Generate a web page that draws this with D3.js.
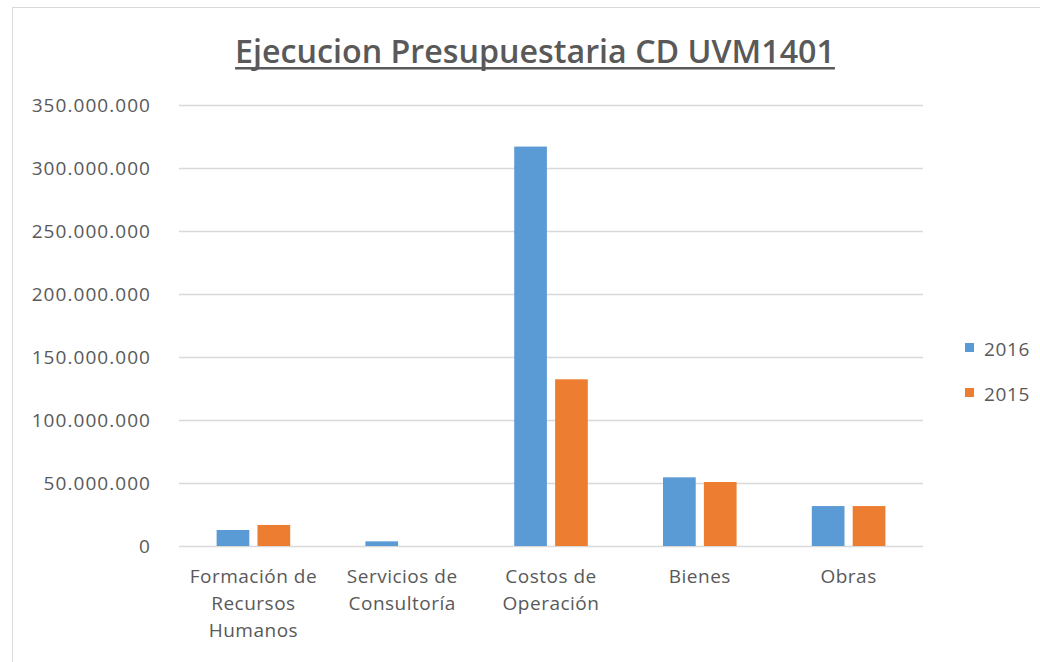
<!DOCTYPE html>
<html>
<head>
<meta charset="utf-8">
<script src="https://cdn.jsdelivr.net/npm/d3@7"></script>
<style>
  body { margin: 0; background: #fff; }
  text { font-family: "Open Sans", sans-serif; fill: #595959; }
</style>
</head>
<body>
<svg id="chart" width="1040" height="662"></svg>
<script>
const categories = [
  "Formación de Recursos Humanos",
  "Servicios de Consultoría",
  "Costos de Operación",
  "Bienes",
  "Obras"
];
const seriesNames = ["2016", "2015"];
const values2016 = [12700000, 3700000, 317000000, 54500000, 31700000];
const values2015 = [16700000, 0, 132300000, 50800000, 31700000];
const yTicks = [0, 50000000, 100000000, 150000000, 200000000, 250000000, 300000000, 350000000];
const colors = ["#5b9bd5", "#ed7d31"];
const title = "Ejecucion Presupuestaria CD UVM1401";

const svg = d3.select("#chart");

// frame of the chart area
svg.append("rect")
  .attr("x", 12.5).attr("y", 7.5)
  .attr("width", 1100).attr("height", 700)
  .attr("fill", "none").attr("stroke", "#d9d9d9");

const plotLeft = 179, plotRight = 923, plotTop = 105, plotBottom = 546;

const x0 = d3.scaleBand().domain(categories).range([plotLeft, plotRight]);
const x1 = d3.scaleBand().domain(seriesNames)
  .range([0, x0.bandwidth()])
  .paddingInner(0.2).paddingOuter(0.92);
const y = d3.scaleLinear().domain([0, 350000000]).range([plotBottom, plotTop]);

const locale = d3.formatLocale({ decimal: ",", thousands: ".", grouping: [3], currency: ["$", ""] });
const fmt = locale.format(",");

// gridlines + y labels
const yAxis = d3.axisLeft(y).tickValues(yTicks).tickFormat(fmt)
  .tickSize(-(plotRight - plotLeft)).tickPadding(28);
const gy = svg.append("g").attr("transform", `translate(${plotLeft},0)`).call(yAxis);
gy.select(".domain").remove();
gy.selectAll(".tick line").attr("stroke", "#d9d9d9").attr("stroke-width", 1.3);
gy.selectAll(".tick text")
  .style("font-size", "19px").style("letter-spacing", "1.05px")
  .attr("fill", "#595959")
  .style("font-family", "'Open Sans', sans-serif");

// bars
const rows = categories.map((c, i) => ({
  cat: c,
  vals: [
    { key: "2016", value: values2016[i] },
    { key: "2015", value: values2015[i] }
  ]
}));

const groups = svg.selectAll("g.grp")
  .data(rows).enter().append("g").attr("class", "grp")
  .attr("transform", (d) => `translate(${x0(d.cat)},0)`);

groups.selectAll("rect")
  .data((d) => d.vals.filter((v) => v.value > 0))
  .enter().append("rect")
  .attr("x", (d) => x1(d.key))
  .attr("width", x1.bandwidth())
  .attr("y", (d) => y(d.value))
  .attr("height", (d) => y(0) - y(d.value))
  .attr("fill", (d) => colors[seriesNames.indexOf(d.key)]);

// x labels, wrapped
const wrapWidth = 142;
categories.forEach((c) => {
  const cx = x0(c) + x0.bandwidth() / 2;
  const t = svg.append("text")
    .attr("x", cx)
    .attr("y", plotBottom + 37)
    .attr("text-anchor", "middle")
    .style("font-size", "19px").style("letter-spacing", "0.5px");
  const words = c.split(" ");
  let line = [];
  let tspan = t.append("tspan").attr("x", cx).attr("dy", 0);
  words.forEach((w) => {
    line.push(w);
    tspan.text(line.join(" "));
    if (tspan.node().getComputedTextLength() > wrapWidth && line.length > 1) {
      line.pop();
      tspan.text(line.join(" "));
      line = [w];
      tspan = t.append("tspan").attr("x", cx).attr("dy", 27).text(w);
    }
  });
});

// legend
const legend = svg.selectAll("g.leg").data(seriesNames).enter().append("g")
  .attr("class", "leg")
  .attr("transform", (d, i) => `translate(965,${343 + i * 45})`);
legend.append("rect").attr("width", 9).attr("height", 9)
  .attr("fill", (d, i) => colors[i]);
legend.append("text").attr("x", 19).attr("y", 13)
  .style("font-size", "19px").style("letter-spacing", "0.6px").text((d) => d);

// title
const tt = svg.append("text")
  .attr("x", 535).attr("y", 63)
  .attr("text-anchor", "middle")
  .style("font-size", "32px").style("font-weight", "600")
  .text(title);
const tw = tt.node().getComputedTextLength();
tt.style("font-size", (32 * 600 / tw) + "px");
const tw2 = tt.node().getComputedTextLength();
svg.append("rect")
  .attr("x", 535 - tw2 / 2).attr("y", 67)
  .attr("width", tw2).attr("height", 2.5)
  .attr("fill", "#595959");
</script>
</body>
</html>
